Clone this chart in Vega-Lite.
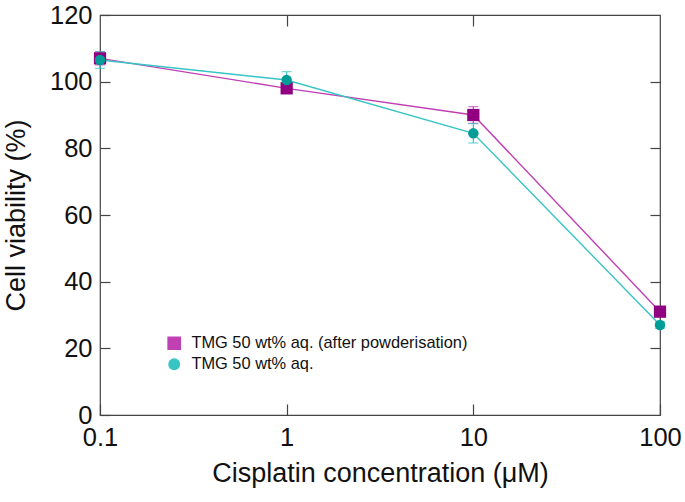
{
  "$schema": "https://vega.github.io/schema/vega-lite/v6.json",
  "width": 560,
  "height": 400,
  "autosize": {"type": "none"},
  "padding": {"left": 100, "top": 15, "right": 25, "bottom": 87},
  "config": {
    "font": "Liberation Sans",
    "view": {"stroke": "#444", "strokeWidth": 1.2},
    "axis": {"grid": false, "domain": false, "tickColor": "#444", "tickWidth": 1.2, "labelColor": "#111", "titleColor": "#111", "labelFontSize": 25.5, "titleFontSize": 27, "titleFontWeight": "normal"},
    "legend": {"title": null, "orient": "none", "legendX": 66, "legendY": 320, "padding": 0, "labelFontSize": 16.4, "labelColor": "#111", "rowPadding": 3, "labelOffset": 9, "symbolSize": 100, "symbolStrokeWidth": 1.4, "labelLimit": 0, "symbolOpacity": 1}
  },
  "data": {"values": [
    {"series": "TMG 50 wt% aq. (after powderisation)", "conc": 0.1, "v": 107, "lo": 105, "hi": 109},
    {"series": "TMG 50 wt% aq. (after powderisation)", "conc": 1, "v": 98, "lo": 96.5, "hi": 99.5},
    {"series": "TMG 50 wt% aq. (after powderisation)", "conc": 10, "v": 90, "lo": 87.5, "hi": 92.5},
    {"series": "TMG 50 wt% aq. (after powderisation)", "conc": 100, "v": 31, "lo": 30, "hi": 32},
    {"series": "TMG 50 wt% aq.", "conc": 0.1, "v": 106.5, "lo": 104, "hi": 109},
    {"series": "TMG 50 wt% aq.", "conc": 1, "v": 100.5, "lo": 98, "hi": 103},
    {"series": "TMG 50 wt% aq.", "conc": 10, "v": 84.5, "lo": 81.6, "hi": 87.4},
    {"series": "TMG 50 wt% aq.", "conc": 100, "v": 27, "lo": 26, "hi": 28}
  ]},
  "resolve": {"axis": {"x": "independent", "y": "independent"}},
  "layer": [
    {
      "mark": {"type": "errorbar", "ticks": {"size": 10}, "thickness": 1.2},
      "encoding": {
        "x": {"field": "conc", "type": "quantitative", "scale": {"type": "log", "domain": [0.1, 100]}, "axis": null},
        "y": {"field": "lo", "type": "quantitative", "scale": {"domain": [0, 120]}, "axis": null},
        "y2": {"field": "hi"},
        "color": {"field": "series", "type": "nominal", "scale": {"domain": ["TMG 50 wt% aq. (after powderisation)", "TMG 50 wt% aq."], "range": ["#c040b4", "#38c4c4"]}}
      }
    },
    {
      "mark": {"type": "line", "strokeWidth": 1.4},
      "encoding": {
        "x": {"field": "conc", "type": "quantitative", "scale": {"type": "log", "domain": [0.1, 100]},
          "axis": {"orient": "bottom", "values": [0.1, 1, 10, 100], "format": "~g", "tickSize": -11, "labelPadding": 21, "title": "Cisplatin concentration (μM)", "titlePadding": 10, "labelFlush": false}},
        "y": {"field": "v", "type": "quantitative", "scale": {"domain": [0, 120]},
          "axis": {"orient": "left", "values": [0, 20, 40, 60, 80, 100, 120], "tickSize": -10, "labelPadding": 18, "title": "Cell viability (%)", "titlePadding": 19}},
        "color": {"field": "series", "type": "nominal"}
      }
    },
    {
      "mark": {"type": "point", "filled": true, "opacity": 1},
      "encoding": {
        "x": {"field": "conc", "type": "quantitative", "scale": {"type": "log", "domain": [0.1, 100]},
          "axis": {"orient": "top", "values": [1, 10], "labels": false, "tickSize": -11, "title": null}},
        "y": {"field": "v", "type": "quantitative", "scale": {"domain": [0, 120]},
          "axis": {"orient": "right", "values": [20, 40, 60, 80, 100], "labels": false, "tickSize": -10, "title": null}},
        "shape": {"field": "series", "type": "nominal", "scale": {"domain": ["TMG 50 wt% aq. (after powderisation)", "TMG 50 wt% aq."], "range": ["square", "circle"]}},
        "size": {"field": "series", "type": "nominal", "scale": {"domain": ["TMG 50 wt% aq. (after powderisation)", "TMG 50 wt% aq."], "range": [150, 110]}},
        "fill": {"field": "series", "type": "nominal", "scale": {"domain": ["TMG 50 wt% aq. (after powderisation)", "TMG 50 wt% aq."], "range": ["#900080", "#009c98"]}}
      }
    }
  ]
}
